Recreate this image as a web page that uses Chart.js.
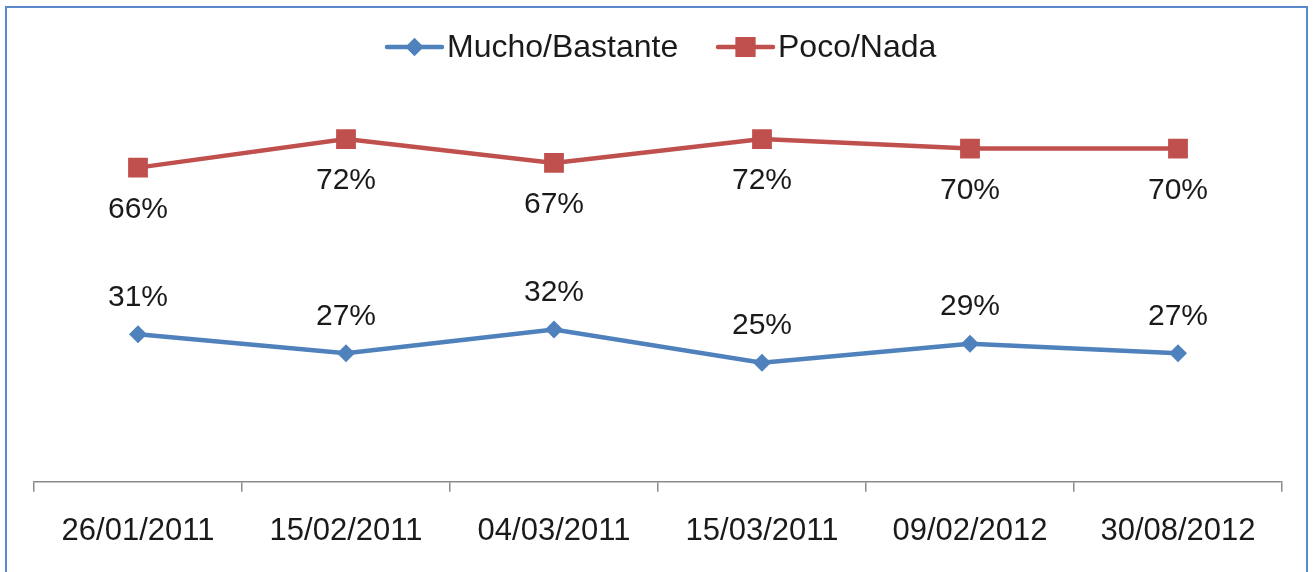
<!DOCTYPE html>
<html>
<head>
<meta charset="utf-8">
<script src="https://cdn.jsdelivr.net/npm/chart.js@4"></script>
<style>
  html, body { margin: 0; padding: 0; background: #fff; }
  #wrap { width: 1316px; height: 572px; position: relative; }
</style>
</head>
<body>
<div id="wrap"><canvas id="c" width="1316" height="572"></canvas></div>
<script>
const categories = ['26/01/2011', '15/02/2011', '04/03/2011', '15/03/2011', '09/02/2012', '30/08/2012'];
const seriesNames = ['Mucho/Bastante', 'Poco/Nada'];
const muchoBastante = [31, 27, 32, 25, 29, 27];
const pocoNada = [66, 72, 67, 72, 70, 70];

const FONT = '"Liberation Sans", Arial, sans-serif';
const BLUE = '#4F81BD';
const RED = '#C0504D';

const frame = {
  id: 'frame',
  beforeDraw(chart) {
    const ctx = chart.ctx;
    ctx.save();
    ctx.fillStyle = '#fff';
    ctx.fillRect(0, 0, chart.width, chart.height);
    ctx.strokeStyle = '#5A8ACB';
    ctx.lineWidth = 2;
    ctx.strokeRect(6, 7, 1301, 620);
    ctx.restore();
  }
};

const valueLabels = {
  id: 'valueLabels',
  afterDatasetsDraw(chart) {
    const ctx = chart.ctx;
    ctx.save();
    ctx.font = '30px ' + FONT;
    ctx.fillStyle = '#1a1a1a';
    ctx.textAlign = 'center';
    ctx.textBaseline = 'middle';
    chart.data.datasets.forEach((ds, i) => {
      const meta = chart.getDatasetMeta(i);
      meta.data.forEach((pt, j) => {
        const off = ds.labelOffset;
        ctx.fillText(ds.data[j] + '%', pt.x, pt.y + off);
      });
    });
    ctx.restore();
  }
};

const customLegend = {
  id: 'customLegend',
  afterDraw(chart) {
    const ctx = chart.ctx;
    const starts = [387, 718];
    const cy = 47;
    ctx.save();
    chart.data.datasets.forEach((ds, i) => {
      const x0 = starts[i];
      ctx.strokeStyle = ds.borderColor;
      ctx.lineWidth = 4.5;
      ctx.lineCap = 'round';
      ctx.beginPath();
      ctx.moveTo(x0, cy);
      ctx.lineTo(x0 + 55, cy);
      ctx.stroke();
      ctx.fillStyle = ds.backgroundColor;
      Chart.helpers.drawPoint(ctx, {pointStyle: ds.pointStyle, radius: ds.pointRadius, borderWidth: 0, rotation: 0}, x0 + 27.5, cy);
      ctx.fill();
      ctx.fillStyle = '#1a1a1a';
      ctx.font = '32px ' + FONT;
      ctx.textAlign = 'left';
      ctx.textBaseline = 'middle';
      ctx.fillText(ds.label, x0 + 60, cy + 1);
    });
    ctx.restore();
  }
};

new Chart(document.getElementById('c'), {
  type: 'line',
  data: {
    labels: categories,
    datasets: [
      {
        label: seriesNames[0],
        data: muchoBastante,
        borderColor: BLUE,
        backgroundColor: BLUE,
        borderWidth: 4.5,
        pointStyle: 'rectRot',
        pointRadius: 9,
        pointHoverRadius: 9,
        pointBorderWidth: 0,
        tension: 0,
        labelOffset: -37
      },
      {
        label: seriesNames[1],
        data: pocoNada,
        borderColor: RED,
        backgroundColor: RED,
        borderWidth: 4.5,
        pointStyle: 'rect',
        pointRadius: 14,
        pointHoverRadius: 14,
        pointBorderWidth: 0,
        tension: 0,
        labelOffset: 42
      }
    ]
  },
  options: {
    responsive: false,
    animation: false,
    events: [],
    layout: { padding: { left: 34, right: 34, top: 101, bottom: 1 } },
    plugins: {
      legend: { display: false },
      tooltip: { enabled: false }
    },
    scales: {
      x: {
        type: 'category',
        offset: true,
        grid: {
          offset: true,
          drawOnChartArea: false,
          drawTicks: true,
          tickLength: 10,
          color: '#8a8a8a',
          lineWidth: 1.5
        },
        border: { display: true, color: '#8a8a8a', width: 1.5 },
        ticks: {
          padding: 21,
          color: '#1a1a1a',
          font: { family: FONT, size: 31 },
          maxRotation: 0,
          autoSkip: false
        }
      },
      y: {
        display: false,
        min: 0,
        max: 80
      }
    }
  },
  plugins: [frame, valueLabels, customLegend]
});
</script>
</body>
</html>
